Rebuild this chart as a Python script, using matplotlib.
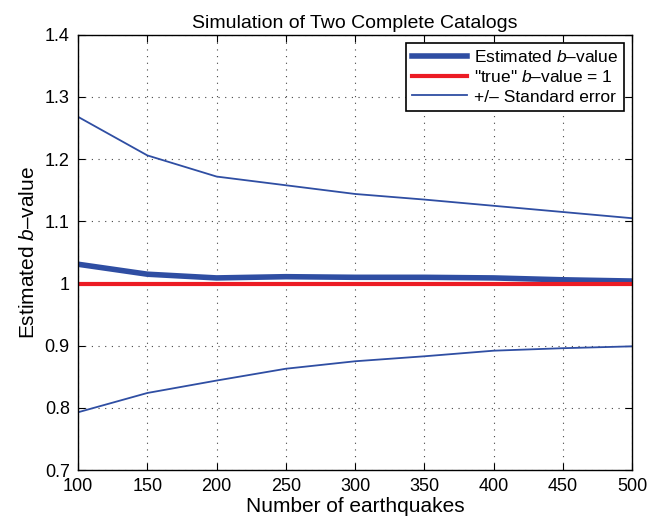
import numpy as np
import matplotlib
matplotlib.use("Agg")
import matplotlib.pyplot as plt

plt.rcParams['font.family'] = ['Liberation Sans', 'DejaVu Sans']
plt.rcParams['mathtext.fontset'] = 'custom'
plt.rcParams['mathtext.it'] = 'Liberation Sans:italic'
plt.rcParams['mathtext.rm'] = 'Liberation Sans'

# === Данни ===
n_quakes = [100, 150, 200, 250, 300, 350, 400, 450, 500]
b_est = [1.031, 1.015, 1.009, 1.011, 1.010, 1.010, 1.009, 1.006, 1.004]
b_upper = [1.268, 1.206, 1.172, 1.158, 1.144, 1.135, 1.125, 1.115, 1.105]
b_lower = [0.793, 0.824, 0.844, 0.863, 0.875, 0.883, 0.892, 0.896, 0.899]
b_true = 1.0

blue = '#2f4ea3'
red = '#ec1c24'

fig = plt.figure(figsize=(6.62, 5.27), dpi=100)
ax = fig.add_axes([0.118, 0.108, 0.837, 0.826])

ax.plot(n_quakes, b_est, color=blue, linewidth=4, label='Estimated $b$\u2013value')
ax.plot([n_quakes[0], n_quakes[-1]], [b_true, b_true], color=red, linewidth=3,
        label='"true" $b$\u2013value = 1')
ax.plot(n_quakes, b_upper, color=blue, linewidth=1.3, label='+/\u2013 Standard error')
ax.plot(n_quakes, b_lower, color=blue, linewidth=1.3)

ax.set_xlim(100, 500)
ax.set_ylim(0.7, 1.4)
ax.set_xticks(np.arange(100, 501, 50))
ax.set_yticks(np.arange(0.7, 1.41, 0.1))
ax.set_yticklabels(['0.7', '0.8', '0.9', '1', '1.1', '1.2', '1.3', '1.4'])
ax.tick_params(direction='in', top=True, right=True, labelsize=13, length=5, pad=6)
ax.grid(True, linestyle=(0, (1, 5)), color='#444444', linewidth=0.8)
for s in ax.spines.values():
    s.set_linewidth(1.0)

ax.set_title('Simulation of Two Complete Catalogs', fontsize=14, pad=5)
ax.set_xlabel('Number of earthquakes', fontsize=15, labelpad=1)
ax.set_ylabel('Estimated $b$\u2013value', fontsize=15, labelpad=5)

leg = ax.legend(loc='upper right', fontsize=12.5, fancybox=False, framealpha=1,
                edgecolor='black', handlelength=3.2, borderpad=0.35,
                labelspacing=0.25, handletextpad=0.4, borderaxespad=0.45)
leg.get_frame().set_linewidth(1.2)

fig.savefig('out.png', dpi=100)
